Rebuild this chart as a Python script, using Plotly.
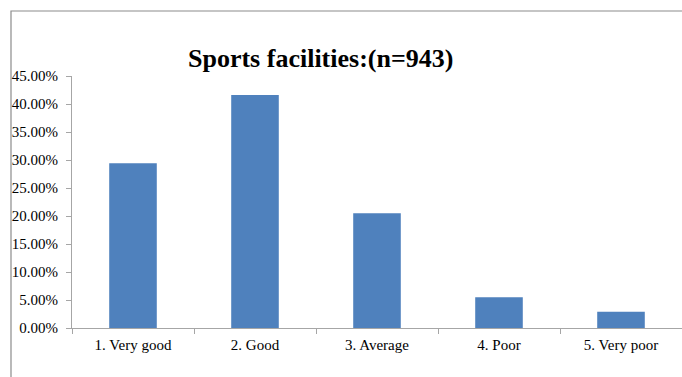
import plotly.graph_objects as go

# Survey ratings for sports facilities (n = 943)
categories = ["1. Very good", "2. Good", "3. Average", "4. Poor", "5. Very poor"]
shares = [0.294, 0.416, 0.205, 0.055, 0.029]
y_ticks = [0.0, 0.05, 0.10, 0.15, 0.20, 0.25, 0.30, 0.35, 0.40, 0.45]
y_tick_labels = ["0.00%", "5.00%", "10.00%", "15.00%", "20.00%",
                 "25.00%", "30.00%", "35.00%", "40.00%", "45.00%"]
title_text = "Sports facilities:(n=943)"

W, H = 682, 377
ML, MR, MT, MB = 72, 0, 76, 49
plot_w = W - ML - MR
plot_h = H - MT - MB

serif = "Liberation Serif, Times New Roman, serif"
axis_grey = "#a6a6a6"

fig = go.Figure(
    go.Bar(
        x=categories,
        y=shares,
        marker=dict(color="#4f81bd", line=dict(width=0)),
        width=0.39,
    )
)

# outer chart frame (left and top edges visible in the window)
fx0 = (11 - ML) / plot_w
fy1 = 1 + (MT - 11) / plot_h
fig.add_shape(
    type="rect", xref="paper", yref="paper",
    x0=fx0, x1=1.2, y0=-0.5, y1=fy1,
    line=dict(color="#8c8c8c", width=1.2), fillcolor="rgba(0,0,0,0)",
    layer="below",
)

fig.add_annotation(
    text=f"<b>{title_text}</b>", xref="paper", yref="paper",
    x=(320 - ML) / plot_w, y=1 + (MT - 58) / plot_h,
    xanchor="center", yanchor="middle", showarrow=False,
    font=dict(family=serif, size=26, color="#000000"),
)

fig.update_layout(
    width=W, height=H,
    margin=dict(l=ML, r=MR, t=MT, b=MB, pad=0),
    paper_bgcolor="white", plot_bgcolor="white",
    showlegend=False,
    font=dict(family=serif, size=15, color="#000000"),
    xaxis=dict(
        showline=True, linecolor=axis_grey, linewidth=1,
        ticks="outside", tickson="boundaries", ticklen=5, tickcolor=axis_grey,
        ticklabelstandoff=3,
        showgrid=False, zeroline=False,
        tickfont=dict(family=serif, size=15, color="#000000"),
    ),
    yaxis=dict(
        range=[0, 0.45], tickvals=y_ticks, ticktext=y_tick_labels,
        showline=True, linecolor=axis_grey, linewidth=1,
        ticks="outside", ticklen=5, tickcolor=axis_grey,
        ticklabelstandoff=5,
        showgrid=False, zeroline=False,
        tickfont=dict(family=serif, size=15, color="#000000"),
    ),
)

fig.write_html("out.html")
